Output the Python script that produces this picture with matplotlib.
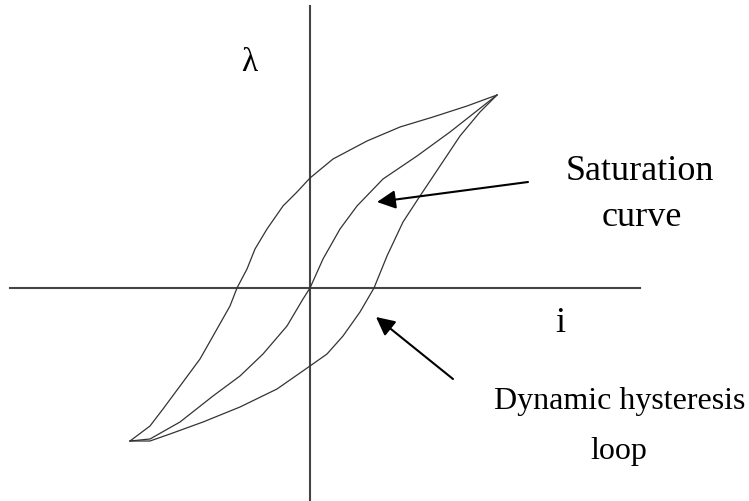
import matplotlib.pyplot as plt

plt.rcParams["font.family"] = ["Liberation Serif", "DejaVu Serif"]

# upper (descending) branch of the loop, current i vs flux linkage lambda
upper_i = [-180, -160, -147, -127, -110, -93, -80, -73, -63, -55, -43, -27, -13, 0,
           23, 57, 90, 123, 157, 187]
upper_lam = [-153, -138, -121, -94, -71, -41, -18, 0, 19, 39, 59, 82, 96, 110,
             129, 147, 161, 171, 182, 193]

# saturation curve
sat_i = [-180, -160, -130, -97, -70, -47, -23, -7, 0, 13, 30, 47, 73, 107, 140, 187]
sat_lam = [-153, -151, -134, -108, -88, -66, -38, -11, 0, 29, 59, 82, 109, 132, 156, 193]

# lower (ascending) branch
lower_i = [-180, -160, -140, -107, -70, -33, 0, 17, 33, 50, 64, 77, 93, 110, 130,
           150, 170, 187]
lower_lam = [-153, -153, -146, -134, -119, -101, -78, -66, -48, -24, 0, 32, 66, 92,
             122, 152, 176, 193]

fig = plt.figure(figsize=(7.49, 5.02), dpi=100)
ax = fig.add_axes([0, 0, 1, 1])
ax.set_xlim(-310, 439)
ax.set_ylim(-213, 289)
ax.axis("off")

# axes
ax.plot([-300, 330], [0, 0], color="#444444", lw=1.5)
ax.plot([0, 0], [-213, 282], color="#444444", lw=1.5)

for xs, ys in [(upper_i, upper_lam), (sat_i, sat_lam), (lower_i, lower_lam)]:
    ax.plot(xs, ys, color="#333333", lw=0.9)

arrow = dict(arrowstyle="-|>", mutation_scale=28, lw=1.5, color="black",
             shrinkA=0, shrinkB=0)
ax.annotate("", xy=(67, 86), xytext=(218, 106), arrowprops=arrow)
ax.annotate("", xy=(66, -29), xytext=(143, -91), arrowprops=arrow)

ax.text(330, 117, "Saturation", fontsize=26, ha="center", va="center")
ax.text(332, 71, "curve", fontsize=26, ha="center", va="center")
ax.text(250, -34, "i", fontsize=26, ha="center", va="center")
ax.text(310, -113, "Dynamic hysteresis", fontsize=23, ha="center", va="center")
ax.text(309, -163, "loop", fontsize=23, ha="center", va="center")
ax.text(-61, 226, "λ", fontsize=24, ha="center", va="center")

fig.savefig("out.png", dpi=100)
